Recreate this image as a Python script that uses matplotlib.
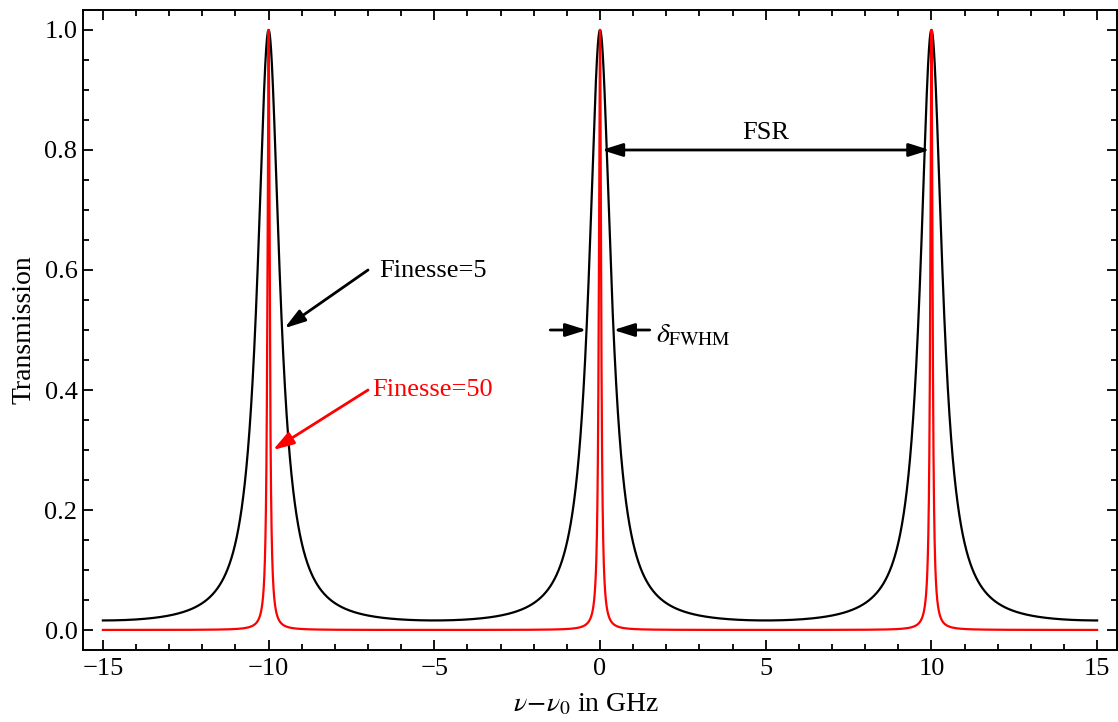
import numpy as np
import matplotlib.pyplot as plt

# cavity parameters
fsr = 10.0                      # free spectral range in GHz
finesse = [5, 50]
colors = ['black', 'red']
x_ticks = [-15, -10, -5, 0, 5, 10, 15]
y_ticks = [0.0, 0.2, 0.4, 0.6, 0.8, 1.0]

plt.rcParams['font.family'] = ['Liberation Serif', 'DejaVu Serif']
plt.rcParams['mathtext.fontset'] = 'stix'


def airy(nu, fin):
    coef = (np.pi * fin / 2) ** 2
    return 1.0 / (1.0 + coef * np.sin(np.pi * nu / fsr) ** 2)


nu = np.linspace(-15, 15, 30001)

fig = plt.figure(figsize=(11.18, 7.22), dpi=100)
ax = fig.add_axes([83 / 1118, 72 / 722, 1034 / 1118, 640 / 722])

for fin, c in zip(finesse, colors):
    ax.plot(nu, airy(nu, fin), color=c, lw=1.6)

ax.set_xlim(-15.6, 15.6)
ax.set_ylim(-0.0333, 1.0333)
ax.set_xticks(x_ticks)
ax.set_xticklabels([str(t).replace('-', '\u2212') for t in x_ticks])
ax.set_yticks(y_ticks)
ax.set_yticklabels(['%.1f' % t for t in y_ticks])
ax.set_xticks(np.arange(-15, 16, 1), minor=True)
ax.set_yticks(np.arange(0, 1.01, 0.05), minor=True)
ax.tick_params(which='both', direction='in', top=True, right=True,
               width=1.3, labelsize=19, color='black')
ax.tick_params(which='major', length=7.5)
ax.tick_params(which='minor', length=4)
ax.tick_params(axis='y', pad=4)
ax.tick_params(axis='x', pad=6)
for s in ax.spines.values():
    s.set_linewidth(1.4)

ax.set_ylabel('Transmission', fontsize=20, labelpad=6)
ax.set_xlabel(r'$\nu\!-\!\nu_0$ in GHz', fontsize=20, labelpad=4)
ax.xaxis.set_label_coords(0.487, -0.065)

head = dict(mutation_scale=18, shrinkA=0, shrinkB=0, lw=2)

# free spectral range
ax.annotate('', xy=(0.05, 0.8), xytext=(fsr - 0.05, 0.8),
            arrowprops=dict(arrowstyle='<|-|>,head_length=0.7,head_width=0.22',
                            color='black', **head))
ax.text(fsr / 2, 0.828, 'FSR', fontsize=19, ha='center', va='center')

# full width at half maximum of the finesse 5 peak
hw = fsr / np.pi * np.arcsin(2 / (np.pi * finesse[0]))
ax.annotate('', xy=(-hw, 0.5), xytext=(-1.5, 0.5),
            arrowprops=dict(arrowstyle='-|>,head_length=0.7,head_width=0.22',
                            color='black', **head))
ax.annotate('', xy=(hw, 0.5), xytext=(1.5, 0.5),
            arrowprops=dict(arrowstyle='-|>,head_length=0.7,head_width=0.22',
                            color='black', **head))
ax.text(1.7, 0.49, r'$\delta_{\mathrm{FWHM}}$', fontsize=20, va='center')

# series labels
ax.annotate('', xy=(-9.52, 0.503), xytext=(-7.0, 0.6),
            arrowprops=dict(arrowstyle='-|>,head_length=0.7,head_width=0.22',
                            color='black', **head))
ax.text(-6.65, 0.598, 'Finesse=%d' % finesse[0], fontsize=19, va='center')
ax.annotate('', xy=(-9.87, 0.3), xytext=(-7.0, 0.4),
            arrowprops=dict(arrowstyle='-|>,head_length=0.7,head_width=0.22',
                            color='red', **head))
ax.text(-6.86, 0.40, 'Finesse=%d' % finesse[1], fontsize=19, va='center',
        color='red')

fig.savefig('out.png', dpi=100)
